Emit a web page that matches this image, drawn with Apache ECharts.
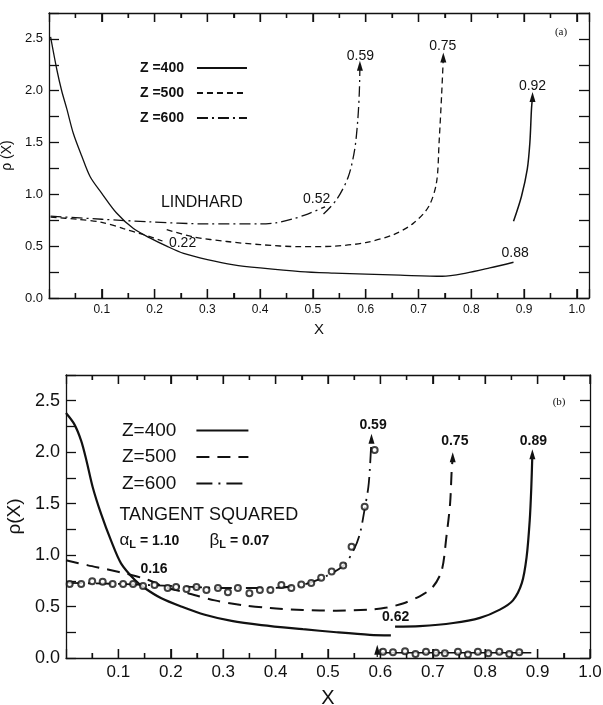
<!DOCTYPE html>
<html>
<head>
<meta charset="utf-8">
<title>rho(X) - Lindhard / Tangent squared</title>
<script src="https://cdn.jsdelivr.net/npm/echarts@6/dist/echarts.min.js"></script>
<style>
  html, body { margin: 0; padding: 0; background: #fff; }
  #chart { width: 603px; height: 705px; }
</style>
</head>
<body>
<div id="chart"></div>
<script>
// Axis steps and tick values
const xLabelStep = 0.1
const yLabelStep = 0.5
const yTickStep = 0.25
const xMajorTicks = [0.1, 0.2, 0.3, 0.4, 0.5, 0.6, 0.7, 0.8, 0.9, 1.0]
const xMinorTicks = [0.05, 0.15, 0.25, 0.35, 0.45, 0.55, 0.65, 0.75, 0.85, 0.95]

// (a) Lindhard
const lindZ400 = [[0.003, 2.52], [0.015, 2.2], [0.024, 2.0], [0.034, 1.82], [0.046, 1.59], [0.062, 1.37], [0.078, 1.17], [0.1, 1.01], [0.128, 0.82], [0.16, 0.67], [0.191, 0.58], [0.223, 0.5], [0.255, 0.43], [0.3, 0.37], [0.35, 0.32], [0.4, 0.29], [0.476, 0.255], [0.54, 0.24], [0.6, 0.23], [0.665, 0.22], [0.745, 0.21], [0.79, 0.24], [0.835, 0.29], [0.88, 0.345]]
const lindZ400Rise = [[0.88, 0.74], [0.895, 0.98], [0.906, 1.24], [0.911, 1.5], [0.914, 1.82], [0.916, 1.94]]
const lindZ500 = [[0.003, 0.78], [0.053, 0.76], [0.1, 0.73], [0.141, 0.67], [0.173, 0.62], [0.198, 0.58], [0.215, 0.55]]
const lindZ500Rise = [[0.223, 0.66], [0.273, 0.59], [0.337, 0.545], [0.4, 0.515], [0.476, 0.495], [0.54, 0.5], [0.6, 0.535], [0.652, 0.61], [0.69, 0.72], [0.719, 0.88], [0.734, 1.11], [0.739, 1.5], [0.744, 1.98], [0.747, 2.32]]
const lindZ600 = [[0.003, 0.79], [0.1, 0.76], [0.19, 0.735], [0.3, 0.715], [0.4, 0.715], [0.43, 0.725], [0.46, 0.76], [0.49, 0.81], [0.523, 0.88]]
const lindZ600Rise = [[0.52, 0.81], [0.545, 0.95], [0.567, 1.17], [0.579, 1.43], [0.585, 1.72], [0.588, 2.0], [0.589, 2.24]]

// (b) Tangent squared
const tanZ400 = [[0.0, 2.38], [0.016, 2.27], [0.029, 2.11], [0.039, 1.92], [0.051, 1.66], [0.067, 1.4], [0.086, 1.14], [0.105, 0.92], [0.131, 0.76], [0.15, 0.68], [0.182, 0.58], [0.22, 0.5], [0.265, 0.42], [0.316, 0.36], [0.373, 0.32], [0.452, 0.28], [0.516, 0.25], [0.58, 0.225], [0.62, 0.22]]
const tanZ400Rise = [[0.628, 0.305], [0.675, 0.31], [0.739, 0.34], [0.79, 0.39], [0.828, 0.47], [0.853, 0.56], [0.87, 0.73], [0.879, 0.98], [0.885, 1.34], [0.888, 1.66], [0.89, 1.98]]
const tanZ500 = [[0.0, 0.95], [0.042, 0.9], [0.08, 0.86], [0.118, 0.815], [0.156, 0.76], [0.188, 0.69], [0.233, 0.63], [0.284, 0.56], [0.335, 0.515], [0.39, 0.485], [0.452, 0.467], [0.516, 0.46], [0.58, 0.47], [0.612, 0.49], [0.643, 0.53], [0.675, 0.6], [0.7, 0.69], [0.717, 0.85], [0.726, 1.18], [0.733, 1.5], [0.736, 1.82], [0.738, 1.95]]
const tanZ600 = [[0.0, 0.73], [0.1, 0.72], [0.2, 0.7], [0.3, 0.68], [0.39, 0.68], [0.45, 0.71], [0.49, 0.78], [0.53, 0.9], [0.55, 1.06], [0.561, 1.21], [0.57, 1.45], [0.577, 1.66], [0.58, 1.85], [0.583, 2.13]]
const tanPoints = [[0.007, 0.72], [0.029, 0.72], [0.05, 0.745], [0.07, 0.74], [0.089, 0.72], [0.109, 0.72], [0.128, 0.72], [0.147, 0.7], [0.169, 0.71], [0.194, 0.68], [0.21, 0.69], [0.23, 0.67], [0.249, 0.69], [0.268, 0.66], [0.29, 0.68], [0.309, 0.64], [0.328, 0.68], [0.35, 0.63], [0.37, 0.66], [0.39, 0.66], [0.411, 0.71], [0.43, 0.68], [0.449, 0.715], [0.468, 0.73], [0.487, 0.78], [0.507, 0.84], [0.529, 0.9], [0.545, 1.08], [0.57, 1.47], [0.589, 2.02]]
const tanLowPoints = [[0.605, 0.06], [0.624, 0.055], [0.647, 0.065], [0.667, 0.04], [0.687, 0.06], [0.706, 0.05], [0.723, 0.045], [0.748, 0.06], [0.767, 0.035], [0.786, 0.06], [0.806, 0.045], [0.827, 0.06], [0.846, 0.04], [0.865, 0.055]]
const tanLowLine = [[0.6, 0.05], [0.888, 0.05]]
const tanLowArrow = [[0.594, 0.01], [0.594, 0.08]]

const INK = '#111'
const FONT = '"Liberation Sans", Arial, sans-serif'
const Y_MAX = 2.75

const chart = echarts.init(document.getElementById('chart'))

// Methods
const isMultiple = (v, step) => Math.abs(v / step - Math.round(v / step)) < 1e-6

const withArrow = (points) => points.map((p, i) =>
  i === points.length - 1 ? { value: p, symbol: 'triangle', symbolSize: [6, 10] } : p
)

const curve = (name, points, g, dash, width, arrow) => ({
  name,
  type: 'line',
  xAxisIndex: g * 2,
  yAxisIndex: g * 2,
  data: arrow ? withArrow(points) : points,
  symbol: 'none',
  showSymbol: true,
  smooth: 0.3,
  silent: true,
  itemStyle: { color: INK },
  lineStyle: { color: INK, width, type: dash, cap: 'butt' },
  z: 3
})

// inward x ticks on the bottom and top frame, placed through the x scale
const xTickSeries = (g) => ({
  name: 'xticks' + g,
  type: 'custom',
  xAxisIndex: g * 2,
  yAxisIndex: g * 2,
  silent: true,
  clip: false,
  z: 2,
  data: xMajorTicks.concat(xMinorTicks).map((v) => [v, 0]),
  renderItem: (params, api) => {
    const v = api.value(0)
    const len = isMultiple(v, xLabelStep) ? 9 : 5
    const bottom = api.coord([v, 0])
    const top = api.coord([v, Y_MAX])
    const style = { stroke: INK, lineWidth: 1.3 }
    return {
      type: 'group',
      children: [
        { type: 'line', shape: { x1: bottom[0], y1: bottom[1], x2: bottom[0], y2: bottom[1] - len }, style },
        { type: 'line', shape: { x1: top[0], y1: top[1], x2: top[0], y2: top[1] + len }, style }
      ]
    }
  }
})

const tick = (length) => ({ show: true, inside: true, length, lineStyle: { color: INK, width: 1.3 } })
const minor = () => ({ show: true, splitNumber: 2, length: 5, lineStyle: { color: INK, width: 1.3 } })
const frameLine = () => ({ show: true, onZero: false, lineStyle: { color: INK, width: 1.3 } })

const makeXAxes = (g, max, fontSize, nameGap) => {
  const base = () => ({
    type: 'value', gridIndex: g, min: 0, max, interval: xLabelStep,
    axisLine: frameLine(), axisTick: tick(9), minorTick: minor(),
    splitLine: { show: false }, minorSplitLine: { show: false }
  })
  return [
    {
      ...base(),
      position: 'bottom',
      name: 'X',
      nameLocation: 'middle',
      nameGap,
      nameTextStyle: { color: INK, fontSize: fontSize + 3, fontFamily: FONT },
      axisLabel: {
        showMinLabel: false,
        formatter: (v) => (v > 0 && v <= 1.0001 && isMultiple(v, xLabelStep)) ? v.toFixed(1) : '',
        color: INK,
        fontSize,
        fontFamily: FONT,
        margin: 6
      }
    },
    { ...base(), position: 'top', axisLabel: { show: false } }
  ]
}

const makeYAxes = (g, name, fontSize, nameGap) => {
  const base = () => ({
    type: 'value', gridIndex: g, min: 0, max: Y_MAX, interval: yTickStep,
    axisLine: frameLine(), axisTick: tick(10), splitLine: { show: false }
  })
  return [
    {
      ...base(),
      position: 'left',
      name,
      nameLocation: 'middle',
      nameGap,
      nameTextStyle: { color: INK, fontSize: fontSize + 1, fontFamily: FONT },
      axisLabel: {
        formatter: (v) => (v < 2.6 && isMultiple(v, yLabelStep)) ? v.toFixed(1) : '',
        color: INK,
        fontSize,
        fontFamily: FONT,
        margin: 6
      }
    },
    { ...base(), position: 'right', axisLabel: { show: false } }
  ]
}

const topDash = [6, 4]
const topDashDot = [11, 4, 2, 4]
const botDash = [13, 8]
const botDashDot = [16, 6, 2, 6]

const series = [
  curve('Z =400', lindZ400, 0, 'solid', 1.3, false),
  curve('Z =400', lindZ400Rise, 0, 'solid', 1.5, true),
  curve('Z =500', lindZ500, 0, topDash, 1.3, false),
  curve('Z =500', lindZ500Rise, 0, topDash, 1.3, true),
  curve('Z =600', lindZ600, 0, topDashDot, 1.3, false),
  curve('Z =600', lindZ600Rise, 0, topDashDot, 1.3, true),
  curve('Z=400', tanZ400, 1, 'solid', 2.2, false),
  curve('Z=400', tanZ400Rise, 1, 'solid', 2.2, true),
  curve('Z=500', tanZ500, 1, botDash, 2, true),
  curve('Z=600', tanZ600, 1, botDashDot, 1.8, true),
  curve('low', tanLowLine, 1, 'solid', 1.5, false),
  curve('lowArrow', tanLowArrow, 1, 'solid', 1.2, true),
  {
    name: 'points',
    type: 'scatter',
    xAxisIndex: 2,
    yAxisIndex: 2,
    data: tanPoints.concat(tanLowPoints),
    symbol: 'emptyCircle',
    symbolSize: 6,
    silent: true,
    itemStyle: { color: INK, borderWidth: 1.3 },
    z: 4
  },
  xTickSeries(0),
  xTickSeries(1)
]

const legendBase = () => ({
  orient: 'vertical',
  align: 'right',
  selectedMode: false,
  itemStyle: { color: 'rgba(0,0,0,0)', borderWidth: 0, opacity: 0 }
})

const option = {
  backgroundColor: '#fff',
  animation: false,
  grid: [
    { left: 49, top: 13, width: 540, height: 285, outerBoundsMode: 'none', containLabel: false },
    { left: 66, top: 375, width: 524, height: 283, outerBoundsMode: 'none', containLabel: false }
  ],
  legend: [
    {
      ...legendBase(),
      data: ['Z =400', 'Z =500', 'Z =600'],
      left: 135,
      top: 56,
      itemWidth: 50,
      itemHeight: 14,
      itemGap: 11,
      textStyle: { color: INK, fontSize: 14, fontWeight: 'bold', fontFamily: FONT, padding: [0, 8, 0, 0] }
    },
    {
      ...legendBase(),
      data: ['Z=400', 'Z=500', 'Z=600'],
      left: 117,
      top: 416,
      itemWidth: 52,
      itemHeight: 17,
      itemGap: 7.5,
      textStyle: { color: INK, fontSize: 19, fontFamily: FONT, padding: [0, 15, 0, 0] }
    }
  ],
  xAxis: [...makeXAxes(0, 1.023, 12, 24), ...makeXAxes(1, 1.0, 17, 30)],
  yAxis: [...makeYAxes(0, 'ρ (X)', 13, 17), ...makeYAxes(1, 'ρ(X)', 18, 25)],
  series
}

chart.setOption(option)

// Text notes in data coordinates, placed through the axes
const notesA = [
  ['0.59', 0.59, 2.33], ['0.75', 0.746, 2.43], ['0.92', 0.916, 2.04],
  ['0.88', 0.883, 0.43], ['0.52', 0.507, 0.95], ['0.22', 0.253, 0.53]
]
const notesB = [
  ['0.59', 0.586, 2.26], ['0.75', 0.742, 2.11], ['0.89', 0.892, 2.11],
  ['0.62', 0.629, 0.4], ['0.16', 0.168, 0.86]
]

const toPx = (g, x, y) => chart.convertToPixel({ xAxisIndex: g * 2, yAxisIndex: g * 2 }, [x, y])

const textAt = (g, text, x, y, font, align) => {
  const [px, py] = toPx(g, x, y)
  return {
    type: 'text',
    silent: true,
    z: 10,
    style: { text, x: px, y: py, font, fill: INK, textAlign: align || 'center', textVerticalAlign: 'middle' }
  }
}

const graphics = [
  ...notesA.map(([t, x, y]) => textAt(0, t, x, y, `14px ${FONT}`)),
  ...notesB.map(([t, x, y]) => textAt(1, t, x, y, `bold 14px ${FONT}`)),
  textAt(0, 'LINDHARD', 0.212, 0.92, `16px ${FONT}`, 'left'),
  textAt(0, '(a)', 0.97, 2.57, `11px "Liberation Serif", serif`),
  textAt(1, '(b)', 0.941, 2.49, `11px "Liberation Serif", serif`),
  textAt(1, 'TANGENT SQUARED', 0.102, 1.39, `18px ${FONT}`, 'left')
]

const subText = (g, sym, rest, x, y) => {
  const [px, py] = toPx(g, x, y)
  return {
    type: 'text',
    silent: true,
    z: 10,
    style: {
      text: `{g|${sym}}{s|L}{v|${rest}}`,
      x: px,
      y: py,
      fill: INK,
      textAlign: 'left',
      textVerticalAlign: 'middle',
      rich: {
        g: { fontSize: 17, fontFamily: FONT, fill: INK },
        s: { fontSize: 11, fontWeight: 'bold', fontFamily: FONT, fill: INK, padding: [9, 0, 0, 0] },
        v: { fontSize: 14, fontWeight: 'bold', fontFamily: FONT, fill: INK }
      }
    }
  }
}

graphics.push(subText(1, 'α', ' = 1.10', 0.102, 1.14))
graphics.push(subText(1, 'β', ' = 0.07', 0.274, 1.14))

chart.setOption({ graphic: graphics })
</script>
</body>
</html>
